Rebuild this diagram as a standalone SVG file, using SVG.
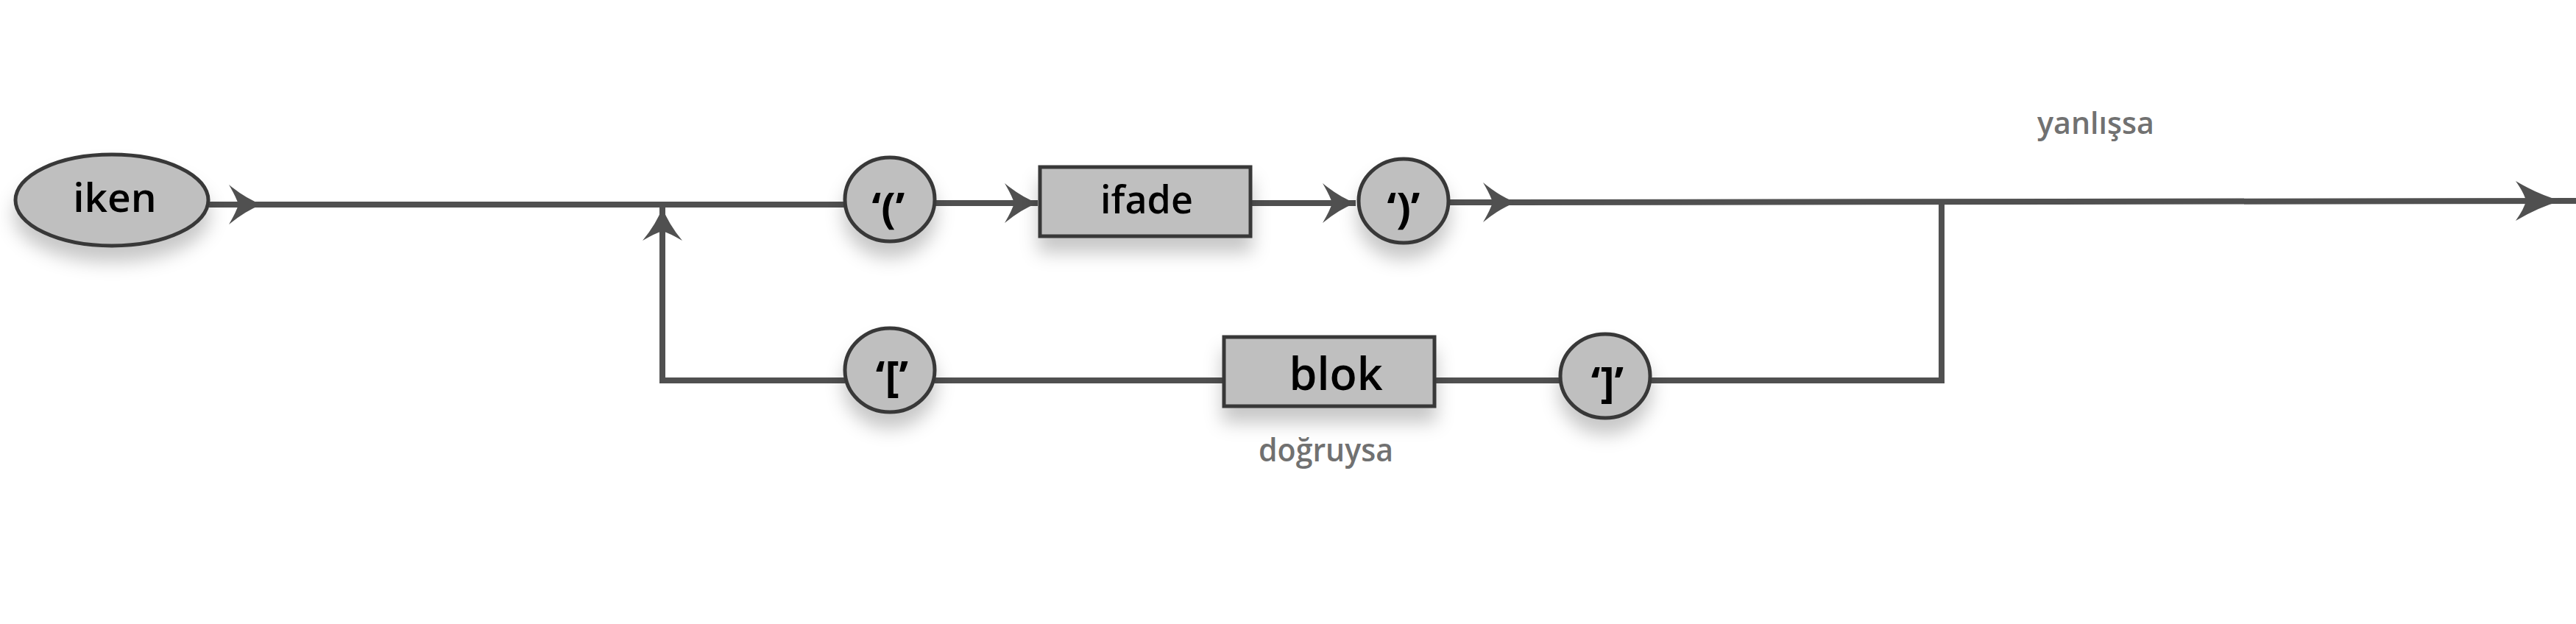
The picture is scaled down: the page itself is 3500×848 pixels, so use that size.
<svg xmlns="http://www.w3.org/2000/svg" width="3500" height="848" viewBox="0 0 3500 848">
  <style>
    .node { fill: #bfbfbf; stroke: #383838; stroke-width: 5; }
    .ntext { font-family: "Open Sans", "Liberation Sans", sans-serif; font-weight: 600; fill: #000; text-anchor: middle; }
    .ctext { font-family: "Open Sans", "Liberation Sans", sans-serif; font-weight: bold; fill: #000; text-anchor: middle; }
    .lbl { font-family: "Open Sans", "Liberation Sans", sans-serif; font-weight: 600; fill: #717171; }
    .conn { fill: none; stroke: #505050; stroke-width: 8; }
  </style>
  <defs>
    <filter id="sh" x="-30%" y="-30%" width="160%" height="200%">
      <feDropShadow dx="0" dy="20" stdDeviation="12" flood-color="#000" flood-opacity="0.22"/>
    </filter>
    <marker id="arr" markerUnits="userSpaceOnUse" viewBox="-46 -28 48 56" refX="0" refY="0" markerWidth="48" markerHeight="56" orient="auto" overflow="visible">
      <path d="M0,0 Q-22,-8 -45,-27 Q-35,-10 -32,0 Q-35,10 -45,27 Q-22,8 0,0 Z" fill="#505050"/>
    </marker>
    <marker id="arrL" markerUnits="userSpaceOnUse" viewBox="-64 -28 66 56" refX="0" refY="0" markerWidth="66" markerHeight="56" orient="auto" overflow="visible">
      <path d="M0,0 Q-30,-8 -62,-27 Q-50,-10 -48,0 Q-50,10 -62,27 Q-30,8 0,0 Z" fill="#505050"/>
    </marker>
  </defs>
  <rect width="3500" height="848" fill="#fff"/>

  <g id="connectors">
    <path class="conn" d="M284,278 L356,278" marker-end="url(#arr)"/>
    <path class="conn" d="M352,278 L1150,278"/>
    <path class="conn" d="M1270,276 L1410,276" marker-end="url(#arr)"/>
    <path class="conn" d="M1700,276 L1842,276" marker-end="url(#arr)"/>
    <path class="conn" d="M1968,275 L2060,275" marker-end="url(#arr)"/>
    <path class="conn" d="M2056,275 L3500,273"/>
    <path d="M3478,273 L3480,273" class="conn" marker-end="url(#arrL)"/>
    <path class="conn" d="M2638,275 L2638,517 L2243,517"/>
    <path class="conn" d="M2120,517 L1950,517"/>
    <path class="conn" d="M1662,517 L1270,517"/>
    <path class="conn" d="M1148,517 L900,517 L900,282" marker-end="url(#arr)"/>
  </g>

  <g id="node-iken">
    <ellipse class="node" cx="152" cy="272" rx="131" ry="62" filter="url(#sh)"/>
    <text class="ntext" x="156" y="288" font-size="55">iken</text>
  </g>
  <g id="node-lparen">
    <ellipse class="node" cx="1209" cy="271" rx="61" ry="57" filter="url(#sh)"/>
    <text class="ctext" x="1207" y="303" font-size="58">‘(’</text>
  </g>
  <g id="node-ifade">
    <rect class="node" x="1413" y="227" width="286" height="94" filter="url(#sh)"/>
    <text class="ntext" x="1558" y="290" font-size="52">ifade</text>
  </g>
  <g id="node-rparen">
    <ellipse class="node" cx="1907" cy="273" rx="61" ry="57" filter="url(#sh)"/>
    <text class="ctext" x="1907" y="303" font-size="58">‘)’</text>
  </g>
  <g id="node-lbrack">
    <ellipse class="node" cx="1209" cy="503" rx="61" ry="57" filter="url(#sh)"/>
    <text class="ctext" x="1212" y="532" font-size="58">‘[’</text>
  </g>
  <g id="node-blok">
    <rect class="node" x="1663" y="458" width="286" height="94" filter="url(#sh)"/>
    <text class="ntext" x="1815" y="530" font-size="61">blok</text>
  </g>
  <g id="node-rbrack">
    <ellipse class="node" cx="2181" cy="511" rx="61" ry="57" filter="url(#sh)"/>
    <text class="ctext" x="2184" y="540" font-size="58">‘]’</text>
  </g>

  <g id="labels">
    <text class="lbl" x="2768" y="182" font-size="42" textLength="159" lengthAdjust="spacingAndGlyphs">yanlışsa</text>
    <text class="lbl" x="1710" y="627" font-size="44" textLength="183" lengthAdjust="spacingAndGlyphs">doğruysa</text>
  </g>
</svg>
